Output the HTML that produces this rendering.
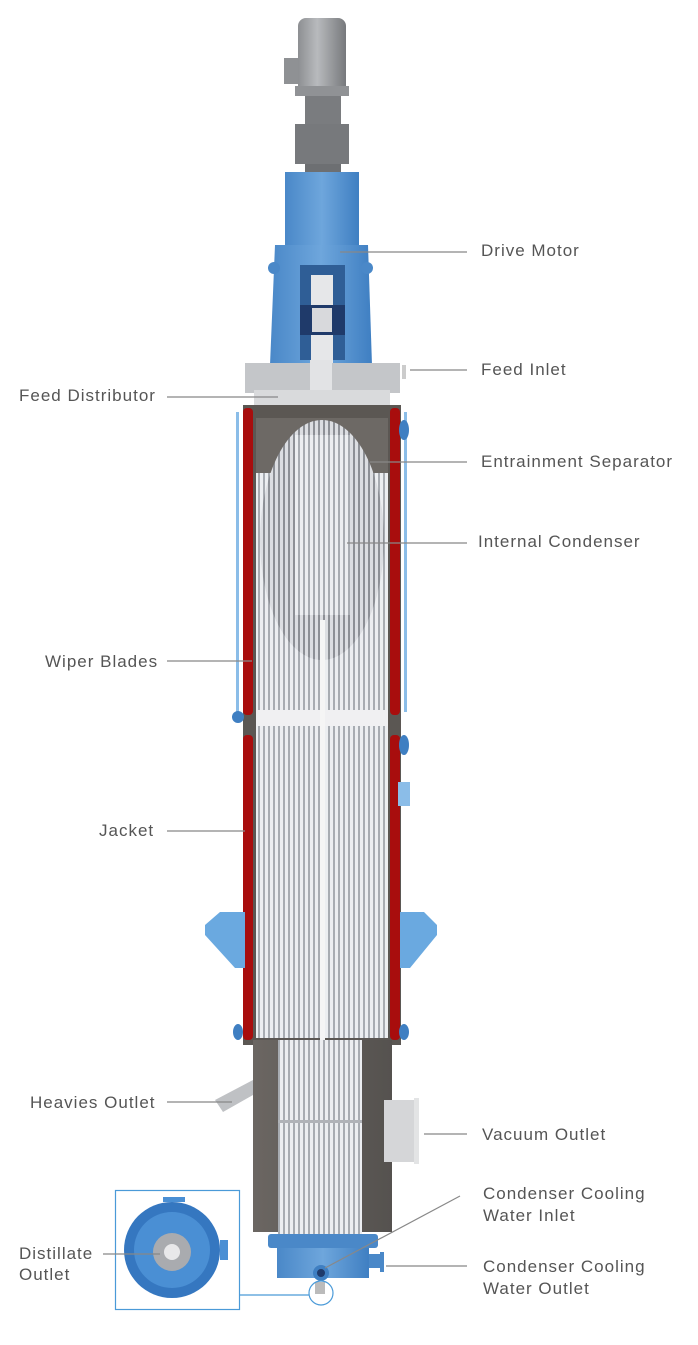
<!DOCTYPE html>
<html><head><meta charset="utf-8"><style>
html,body{margin:0;padding:0;background:#fff;}
svg{display:block;}
text{font-family:"Liberation Sans",sans-serif;font-size:17px;letter-spacing:1px;fill:#555;}
</style></head><body>
<svg width="698" height="1345" viewBox="0 0 698 1345" xmlns="http://www.w3.org/2000/svg">
<defs>
<pattern id="tubes" width="5" height="10" patternUnits="userSpaceOnUse">
<rect width="5" height="10" fill="#eceef1"/><rect x="3" width="2" height="10" fill="#a8acb2"/>
</pattern>
<pattern id="tubesD" width="5" height="10" patternUnits="userSpaceOnUse">
<rect width="5" height="10" fill="#dcdee2"/><rect x="3" width="2" height="10" fill="#8d9096"/>
</pattern>
<linearGradient id="gray" x1="0" x2="1"><stop offset="0" stop-color="#8d8f92"/><stop offset=".4" stop-color="#b8babd"/><stop offset="1" stop-color="#77797c"/></linearGradient>
<linearGradient id="blue" x1="0" x2="1"><stop offset="0" stop-color="#4a88c8"/><stop offset=".5" stop-color="#6ea6dc"/><stop offset="1" stop-color="#3f7fc2"/></linearGradient>
<linearGradient id="dark" x1="0" x2="1"><stop offset="0" stop-color="#6b6662"/><stop offset="1" stop-color="#55524f"/></linearGradient>
</defs>

<rect x="284" y="58" width="18" height="26" fill="#8f9194"/>
<rect x="298" y="18" width="48" height="78" rx="8" fill="url(#gray)"/>
<rect x="295" y="86" width="54" height="10" fill="#909295"/>
<rect x="305" y="96" width="36" height="28" fill="#7a7c7f"/>
<rect x="295" y="124" width="54" height="40" fill="#77797c"/>
<rect x="305" y="164" width="36" height="10" fill="#6d6f72"/>
<rect x="285" y="172" width="74" height="75" fill="url(#blue)"/>
<polygon points="275,245 368,245 372,365 270,365" fill="url(#blue)"/>
<rect x="300" y="265" width="45" height="95" fill="#2f5e96"/>
<rect x="311" y="275" width="22" height="88" fill="#e6e7e9"/>
<rect x="300" y="305" width="45" height="30" fill="#1f3a6a"/>
<rect x="312" y="308" width="20" height="24" fill="#d8d9dc"/>
<circle cx="274" cy="268" r="6" fill="#4a88c8"/><circle cx="367" cy="268" r="6" fill="#4a88c8"/>
<rect x="245" y="363" width="155" height="30" fill="#c4c6c9"/>
<rect x="310" y="360" width="22" height="45" fill="#e2e3e5"/>
<rect x="402" y="365" width="4" height="14" fill="#ccc"/>
<rect x="254" y="390" width="136" height="18" fill="#d9dadc"/>
<rect x="243" y="405" width="158" height="640" fill="#5b5753"/>
<rect x="243" y="408" width="10" height="307" rx="4" fill="#a80d0d"/>
<rect x="243" y="735" width="10" height="305" rx="4" fill="#a80d0d"/>
<rect x="390" y="408" width="10" height="307" rx="4" fill="#a80d0d"/>
<rect x="390" y="735" width="10" height="305" rx="4" fill="#a80d0d"/>
<rect x="236" y="412" width="3" height="300" fill="#8bbde8"/>
<rect x="404" y="412" width="3" height="300" fill="#8bbde8"/>
<rect x="256" y="418" width="132" height="620" fill="url(#tubes)"/>
<rect x="256" y="418" width="132" height="55" fill="#6d6965"/>
<ellipse cx="322" cy="540" rx="62" ry="120" fill="url(#tubesD)"/>
<rect x="295" y="435" width="55" height="180" fill="url(#tubes)"/>
<rect x="256" y="710" width="132" height="16" fill="#f0f0f2"/>
<rect x="320" y="620" width="5" height="420" fill="#f5f5f5"/>
<circle cx="238" cy="717" r="6" fill="#3f7fc2"/>
<ellipse cx="404" cy="430" rx="5" ry="10" fill="#3f7fc2"/>
<ellipse cx="404" cy="745" rx="5" ry="10" fill="#3f7fc2"/>
<rect x="398" y="782" width="12" height="24" fill="#8bbde8"/>
<ellipse cx="238" cy="1032" rx="5" ry="8" fill="#3f7fc2"/>
<ellipse cx="404" cy="1032" rx="5" ry="8" fill="#3f7fc2"/>
<polygon points="220,912 245,912 245,968 235,968 205,935 205,925" fill="#6aa9e0"/>
<polygon points="400,912 424,912 437,925 437,935 410,968 400,968" fill="#6aa9e0"/>
<rect x="253" y="1040" width="139" height="192" fill="url(#dark)"/>
<rect x="278" y="1040" width="84" height="195" fill="url(#tubes)"/>
<rect x="278" y="1120" width="84" height="3" fill="#b0b3b8"/>
<polygon points="253,1080 215,1100 223,1112 253,1095" fill="#bfc1c4"/>
<rect x="384" y="1100" width="32" height="62" fill="#d5d6d8"/>
<rect x="414" y="1098" width="5" height="66" fill="#e3e4e5"/>
<rect x="268" y="1234" width="110" height="14" rx="3" fill="#4a88c8"/>
<rect x="277" y="1248" width="92" height="30" fill="url(#blue)"/>
<rect x="369" y="1254" width="12" height="14" fill="#4a88c8"/>
<rect x="380" y="1252" width="4" height="20" fill="#4a88c8"/>
<circle cx="321" cy="1273" r="8" fill="#3f7fc2"/><circle cx="321" cy="1273" r="4" fill="#1f3a6a"/>
<rect x="315" y="1282" width="10" height="12" fill="#bbb"/>
<circle cx="321" cy="1293" r="12" fill="none" stroke="#4a9ad8" stroke-width="1.2"/>
<rect x="115.5" y="1190.5" width="124" height="119" fill="#fff" stroke="#4a9ad8" stroke-width="1.2"/>
<polyline points="240,1295 309,1295" fill="none" stroke="#4a9ad8" stroke-width="1.2"/>
<circle cx="172" cy="1250" r="48" fill="#3577c0"/>
<circle cx="172" cy="1250" r="38" fill="#4a8fd4"/>
<circle cx="172" cy="1252" r="19" fill="#a9abaf"/>
<circle cx="172" cy="1252" r="8" fill="#e8e8ea"/>
<rect x="163" y="1197" width="22" height="5" fill="#4a8fd4"/>
<rect x="220" y="1240" width="8" height="20" fill="#4a8fd4"/>
<g stroke="#888" stroke-width="1.2" fill="none">
<line x1="340" y1="252" x2="467" y2="252"/>
<line x1="410" y1="370" x2="467" y2="370"/>
<line x1="167" y1="397" x2="278" y2="397"/>
<line x1="370" y1="462" x2="467" y2="462"/>
<line x1="347" y1="543" x2="467" y2="543"/>
<line x1="167" y1="661" x2="252" y2="661"/>
<line x1="167" y1="831" x2="245" y2="831"/>
<line x1="167" y1="1102" x2="232" y2="1102"/>
<line x1="424" y1="1134" x2="467" y2="1134"/>
<line x1="325" y1="1268" x2="460" y2="1196"/>
<line x1="386" y1="1266" x2="467" y2="1266"/>
<line x1="103" y1="1254" x2="160" y2="1254"/>
</g>
<text x="481" y="256">Drive Motor</text>
<text x="481" y="375">Feed Inlet</text>
<text x="19" y="401">Feed Distributor</text>
<text x="481" y="467">Entrainment Separator</text>
<text x="478" y="547">Internal Condenser</text>
<text x="45" y="667">Wiper Blades</text>
<text x="99" y="836">Jacket</text>
<text x="30" y="1108">Heavies Outlet</text>
<text x="482" y="1140">Vacuum Outlet</text>
<text x="483" y="1199">Condenser Cooling</text>
<text x="483" y="1221">Water Inlet</text>
<text x="19" y="1259">Distillate</text>
<text x="19" y="1280">Outlet</text>
<text x="483" y="1272">Condenser Cooling</text>
<text x="483" y="1294">Water Outlet</text>
</svg>
</body></html>
